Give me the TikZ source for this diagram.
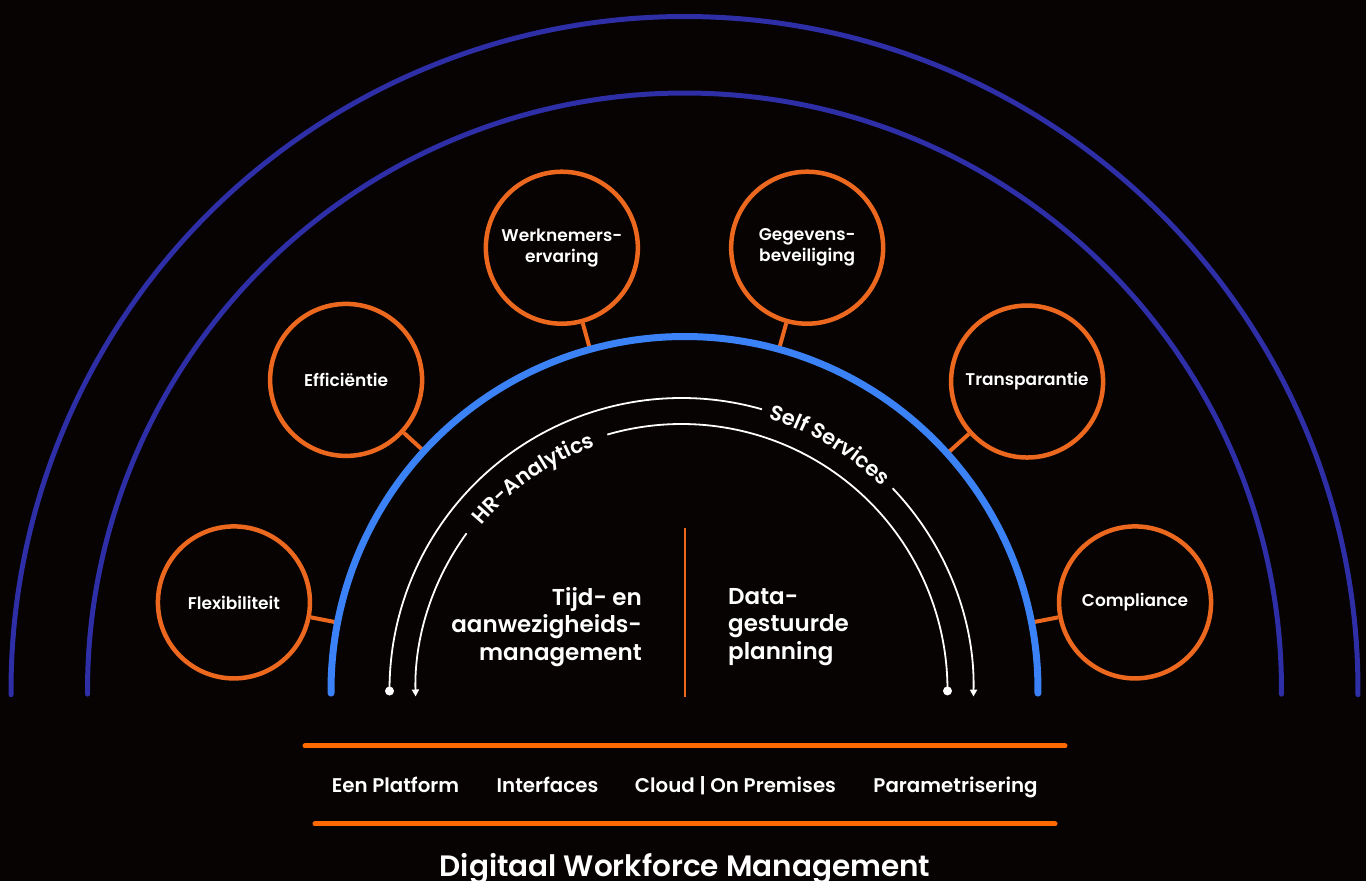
\documentclass[tikz,border=0pt]{standalone}
\usepackage{fontspec}
\setmainfont{Poppins}[BoldFont={Poppins SemiBold}]
\usetikzlibrary{decorations.text,arrows.meta,calc}
\definecolor{bg}{RGB}{7,3,2}
\definecolor{dblue}{RGB}{46,46,166}
\definecolor{lblue}{RGB}{59,130,246}
\definecolor{orng}{RGB}{235,104,30}
\definecolor{orng2}{RGB}{255,106,0}
\begin{document}
\begin{tikzpicture}[x=1pt,y=1pt,
  topic/.style={circle,draw=orng,line width=4.5pt,minimum size=152pt,inner sep=0pt,align=center,text=white,font=\bfseries\fontsize{17}{21}\selectfont},
  link/.style={draw=orng,line width=4pt},
  ring/.style={draw=dblue,line width=5pt,line cap=round},
  core/.style={draw=lblue,line width=7pt,line cap=round},
  flow/.style={draw=white,line width=1.8pt},
  tip/.style={-{Triangle[length=7pt,width=7pt]}},
  dotnode/.style={circle,fill=white,minimum size=9pt,inner sep=0pt},
  ctext/.style={text=white,inner sep=0pt,font=\bfseries\fontsize{23}{27.5}\selectfont},
  btext/.style={text=white,font=\bfseries\fontsize{19.8}{23}\selectfont,anchor=base},
  bar/.style={draw=orng2,line width=5pt,line cap=round}
]
\fill[bg] (0,0) rectangle (1366,881);
\useasboundingbox (0,0) rectangle (1366,881);
\coordinate (C) at (684.5,191);
\coordinate (W) at (681.5,191);

% outer rings
\draw[ring] ($(C)+(-0.4:673.5pt)$) arc[start angle=-0.4,end angle=180.4,radius=673.5pt];
\draw[ring] ($(C)+(-0.4:597pt)$) arc[start angle=-0.4,end angle=180.4,radius=597pt];

% topic circles
\node[topic] (flex) at ($(C)+(169:459pt)$) {Flexibiliteit};
\node[topic] (eff)  at ($(C)+(137.5:459pt)$) {Efficiëntie};
\node[topic] (werk) at ($(C)+(105.5:459pt)$) {Werknemers-\\ervaring};
\node[topic] (geg)  at ($(C)+(74.5:459pt)$) {Gegevens-\\beveiliging};
\node[topic] (trans) at ($(C)+(42:461pt)$) {Transparantie};
\node[topic] (comp) at ($(C)+(11:459pt)$) {Compliance};

\coordinate (b1) at ($(C)+(169:353.5pt)$);
\coordinate (b2) at ($(C)+(137.5:353.5pt)$);
\coordinate (b3) at ($(C)+(105.5:353.5pt)$);
\coordinate (b4) at ($(C)+(74.5:353.5pt)$);
\coordinate (b5) at ($(C)+(42:353.5pt)$);
\coordinate (b6) at ($(C)+(11:353.5pt)$);
\draw[link] (flex) -- (b1);
\draw[link] (eff) -- (b2);
\draw[link] (werk) -- (b3);
\draw[link] (geg) -- (b4);
\draw[link] (trans) -- (b5);
\draw[link] (comp) -- (b6);

% blue core arc
\draw[core] ($(C)+(-0.5:353.5pt)$) arc[start angle=-0.5,end angle=180.5,radius=353.5pt];

% white flow arcs
\node[dotnode] (da) at ($(W)+(180.2:292pt)$) {};
\draw[flow] (da.center) arc[start angle=180.2,end angle=74,radius=292pt];
\draw[flow,tip] ($(W)+(43.7:292pt)$) arc[start angle=43.7,end angle=-1.3,radius=292pt];
\node[dotnode] (db) at ($(W)+(-0.2:266pt)$) {};
\draw[flow] (db.center) arc[start angle=-0.2,end angle=106.2,radius=266pt];
\draw[flow,tip] ($(W)+(143.9:266pt)$) arc[start angle=143.9,end angle=181.4,radius=266pt];

\path[decorate,decoration={text along path,text align=center,text color=white,
  text={|\bfseries\fontsize{21}{25}\selectfont|Self Services}}]
  ($(W)+(80:285.5pt)$) arc[start angle=80,end angle=37.7,radius=285.5pt];
\path[decorate,decoration={text along path,text align=center,text color=white,
  text={|\bfseries\fontsize{21}{25}\selectfont|HR-Analytics}}]
  ($(W)+(150:258.5pt)$) arc[start angle=150,end angle=100.1,radius=258.5pt];

% center
\coordinate (dtop) at (685,353);
\coordinate (dbot) at (685,184);
\draw[draw=orng,line width=2.5pt] (dtop) -- (dbot);
\node[ctext,align=right,anchor=east] (tijd) at (642,254) {Tijd- en\\aanwezigheids-\\management};
\node[ctext,align=left,anchor=west] (data) at (728,254) {Data-\\gestuurde\\planning};

% bottom
\coordinate (l1a) at (305,135); \coordinate (l1b) at (1065,135);
\coordinate (l2a) at (315,57); \coordinate (l2b) at (1055,57);
\draw[bar] (l1a) -- (l1b);
\draw[bar] (l2a) -- (l2b);
\node[btext] (p1) at (395.5,88) {Een Platform};
\node[btext] (p2) at (547.5,88) {Interfaces};
\node[btext] (p3) at (735.5,88) {Cloud | On Premises};
\node[btext] (p4) at (955.5,88) {Parametrisering};
\node[text=white,font=\bfseries\fontsize{29.5}{34}\selectfont,anchor=base] (title) at (685,4) {Digitaal Workforce Management};
\end{tikzpicture}
\end{document}
